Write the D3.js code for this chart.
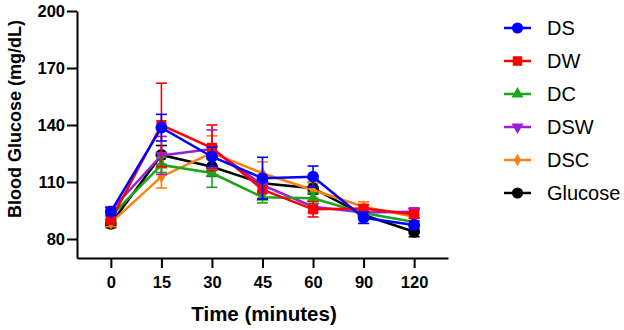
<!DOCTYPE html>
<html>
<head>
<meta charset="utf-8">
<script src="https://cdn.jsdelivr.net/npm/d3@7"></script>
<style>
  body { margin: 0; background: #fff; }
  text { font-family: "Liberation Sans", Arial, sans-serif; }
</style>
</head>
<body>
<div id="chart"></div>
<script>
// time points (categorical, GraphPad style)
const times = ["0", "15", "30", "45", "60", "90", "120"];
const yTicks = [80, 110, 140, 170, 200];

// series names in legend order
const seriesNames = ["DS", "DW", "DC", "DSW", "DSC", "Glucose"];

// mean values
const dsValues      = [94.4, 138.6, 123.3, 112, 112.8, 91.2, 87.4];
const dwValues      = [90, 140, 128, 106, 95.6, 96, 93];
const dcValues      = [92, 119, 114.7, 102, 101.4, 93.7, 89];
const dswValues     = [95, 124, 127.4, 108.4, 97, 94, 94.4];
const dscValues     = [88.5, 112.8, 125.3, 114.6, 105.8, 97, 91.7];
const glucoseValues = [88, 124.2, 118, 109.3, 106.7, 92.6, 83.8];

// error (SD / SEM)
const dsErr      = [2, 7, 5, 11, 5.6, 3, 2];
const dwErr      = [2, 22, 12, 5, 4, 2, 2];
const dcErr      = [2, 4, 7.5, 3, 3, 2, 2];
const dswErr     = [2, 10, 10, 4, 3, 2, 2];
const dscErr     = [2, 6, 9, 6, 4, 2.6, 2];
const glucoseErr = [2, 5, 5, 4, 3, 2, 2.6];

const colors = {
  DS: "#0000ff", DW: "#ff0000", DC: "#1aa51a",
  DSW: "#9b1fd6", DSC: "#ff7f0e", Glucose: "#000000"
};

const series = [
  { name: "DS", values: dsValues, err: dsErr, symbol: d3.symbolCircle, size: 110, rot: 0 },
  { name: "DW", values: dwValues, err: dwErr, symbol: d3.symbolSquare, size: 100, rot: 0 },
  { name: "DC", values: dcValues, err: dcErr, symbol: d3.symbolTriangle, size: 70, rot: 0 },
  { name: "DSW", values: dswValues, err: dswErr, symbol: d3.symbolTriangle, size: 70, rot: 180 },
  { name: "DSC", values: dscValues, err: dscErr, symbol: d3.symbolDiamond, size: 50, rot: 0 },
  { name: "Glucose", values: glucoseValues, err: glucoseErr, symbol: d3.symbolCircle, size: 110, rot: 0 }
];

const W = 624, H = 330;
const svg = d3.select("#chart").append("svg")
  .attr("width", W)
  .attr("height", H);

const x = d3.scalePoint()
  .domain(times)
  .range([77, 448])
  .padding(0.67);

const y = d3.scaleLinear()
  .domain([70, 200])
  .range([258, 11]);

// Y axis
const yAxis = svg.append("g")
  .attr("transform", "translate(77,0)")
  .call(d3.axisLeft(y).tickValues(yTicks).tickSize(10).tickSizeOuter(0).tickPadding(2));
yAxis.select(".domain").attr("stroke-width", 2);
yAxis.selectAll(".tick line").attr("stroke-width", 2);
yAxis.selectAll("text")
  .style("font-size", "16.5px")
  .style("font-weight", "bold")
  .attr("fill", "#000");

// X axis
const xAxis = svg.append("g")
  .attr("transform", "translate(0,258)")
  .call(d3.axisBottom(x).tickSize(10).tickSizeOuter(0).tickPadding(8));
xAxis.select(".domain").attr("stroke-width", 2);
xAxis.selectAll(".tick line").attr("stroke-width", 2);
xAxis.selectAll("text")
  .style("font-size", "16.5px")
  .style("font-weight", "bold")
  .attr("fill", "#000");

// Axis titles
svg.append("text")
  .attr("x", 264)
  .attr("y", 321)
  .attr("text-anchor", "middle")
  .style("font-size", "20.5px")
  .style("font-weight", "bold")
  .text("Time (minutes)");

svg.append("text")
  .attr("transform", "translate(21,119) rotate(-90)")
  .attr("text-anchor", "middle")
  .style("font-size", "18px")
  .style("font-weight", "bold")
  .text("Blood Glucose (mg/dL)");

// Draw series, last first so DS ends on top
const line = d3.line()
  .x((d, i) => x(times[i]))
  .y(d => y(d));

const plot = svg.append("g");
series.slice().reverse().forEach(s => {
  const c = colors[s.name];
  const g = plot.append("g");

  // error bars
  s.values.forEach((v, i) => {
    const cx = x(times[i]);
    const e = s.err[i];
    g.append("line")
      .attr("x1", cx).attr("x2", cx)
      .attr("y1", y(v - e)).attr("y2", y(v + e))
      .attr("stroke", c).attr("stroke-width", 1.6);
    [v - e, v + e].forEach(t => {
      g.append("line")
        .attr("x1", cx - 5.5).attr("x2", cx + 5.5)
        .attr("y1", y(t)).attr("y2", y(t))
        .attr("stroke", c).attr("stroke-width", 1.6);
    });
  });

  g.append("path")
    .datum(s.values)
    .attr("fill", "none")
    .attr("stroke", c)
    .attr("stroke-width", 2.5)
    .attr("d", line);

  g.selectAll("path.pt")
    .data(s.values)
    .enter().append("path")
    .attr("class", "pt")
    .attr("d", d3.symbol().type(s.symbol).size(s.size))
    .attr("transform", (d, i) => `translate(${x(times[i])},${y(d)}) rotate(${s.rot})`)
    .attr("fill", c);
});

// Legend
const legend = svg.append("g");
series.forEach((s, i) => {
  const c = colors[s.name];
  const ly = 28 + i * 33;
  legend.append("line")
    .attr("x1", 504).attr("x2", 531)
    .attr("y1", ly).attr("y2", ly)
    .attr("stroke", c).attr("stroke-width", 2.5);
  legend.append("path")
    .attr("d", d3.symbol().type(s.symbol).size(s.size * 0.9))
    .attr("transform", `translate(517.5,${ly}) rotate(${s.rot})`)
    .attr("fill", c);
  legend.append("text")
    .attr("x", 547)
    .attr("y", ly + 7)
    .style("font-size", "20px")
    .attr("fill", "#000")
    .text(s.name);
});
</script>
</body>
</html>
